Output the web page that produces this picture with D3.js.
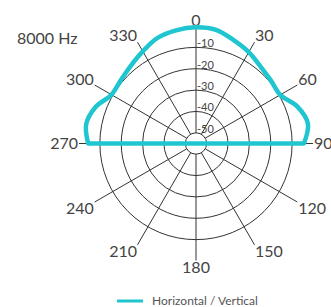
<!DOCTYPE html>
<html>
<head>
<meta charset="utf-8">
<script src="https://cdn.jsdelivr.net/npm/d3@7"></script>
<style>
  body { margin: 0; background: #fff; }
  text { font-family: Lato, "Open Sans", sans-serif; }
</style>
</head>
<body>
<div id="chart"></div>
<script>
const title = "8000 Hz";
const angleTicks = [0, 30, 60, 90, 120, 150, 180, 210, 240, 270, 300, 330];
const ringLevels = [-10, -20, -30, -40, -50];
const patternAngles = [270, 280, 290, 300, 310, 320, 330, 340, 350, 0, 10, 20, 30, 40, 50, 60, 70, 80, 90];
const patternDb = [-4.5, -2.8, -5, -9.3, -9, -7.5, -5.2, -2.4, -1.2, -0.6, -1, -3.5, -5.6, -8, -9.2, -9.5, -4.5, -1.8, -4.5];
const legendLabel = "Horizontal / Vertical";

const width = 331;
const height = 307;
const cx = 196;
const cy = 143.5;
const lineColor = "#1fc6cf";
const gridColor = "#333";

const svg = d3.select("#chart")
    .append("svg")
    .attr("width", width)
    .attr("height", height);

const r = d3.scaleLinear()
    .domain([-55, 0])
    .range([0, 117.5]);

const rad = d => d * Math.PI / 180;

const g = svg.append("g")
    .attr("transform", `translate(${cx}, ${cy})`);

// rings
g.selectAll(".ring")
    .data(ringLevels)
    .enter().append("circle")
    .attr("class", "ring")
    .attr("r", d => r(d))
    .attr("fill", "none")
    .attr("stroke", gridColor)
    .attr("stroke-width", 1);

// spokes
const spokeEnd = 117;
g.selectAll(".spoke")
    .data(angleTicks)
    .enter().append("line")
    .attr("class", "spoke")
    .attr("x1", d => r(-50) * Math.sin(rad(d)))
    .attr("y1", d => -r(-50) * Math.cos(rad(d)))
    .attr("x2", d => spokeEnd * Math.sin(rad(d)))
    .attr("y2", d => -spokeEnd * Math.cos(rad(d)))
    .attr("stroke", gridColor)
    .attr("stroke-width", 1);

// angle labels
const labelR = 118;
g.selectAll(".angle-label")
    .data(angleTicks)
    .enter().append("text")
    .attr("class", "angle-label")
    .attr("x", d => labelR * Math.sin(rad(d)))
    .attr("y", d => -labelR * Math.cos(rad(d)))
    .attr("text-anchor", d => {
        const s = Math.sin(rad(d));
        return s > 0.01 ? "start" : s < -0.01 ? "end" : "middle";
    })
    .attr("dy", d => {
        const c = Math.cos(rad(d));
        return c > 0.01 ? "0" : c < -0.01 ? "0.72em" : "0.36em";
    })
    .attr("font-size", "16px")
    .attr("fill", "#444")
    .text(d => d);

// ring labels
g.selectAll(".ring-label")
    .data(ringLevels)
    .enter().append("text")
    .attr("class", "ring-label")
    .attr("x", 1)
    .attr("y", d => -r(d))
    .attr("font-size", "11px")
    .attr("fill", "#444")
    .text(d => d);

// pattern
const radial = d3.lineRadial()
    .angle((d, i) => rad(patternAngles[i]))
    .radius(d => r(d))
    .curve(d3.curveCatmullRom.alpha(0.5));

g.append("path")
    .attr("d", radial(patternDb) + "Z")
    .attr("fill", "none")
    .attr("stroke", lineColor)
    .attr("stroke-width", 4.5)
    .attr("stroke-linejoin", "round");

// title
svg.append("text")
    .attr("x", 17)
    .attr("y", 44)
    .attr("font-size", "16px")
    .attr("fill", "#444")
    .text(title);

// legend
const legend = svg.append("g")
    .attr("transform", "translate(117, 301)");

legend.append("line")
    .attr("x1", 0)
    .attr("x2", 26)
    .attr("y1", 0)
    .attr("y2", 0)
    .attr("stroke", lineColor)
    .attr("stroke-width", 3);

legend.append("text")
    .attr("x", 35)
    .attr("y", 0)
    .attr("dy", "0.35em")
    .attr("font-size", "12px")
    .attr("fill", "#555")
    .text(legendLabel);
</script>
</body>
</html>
